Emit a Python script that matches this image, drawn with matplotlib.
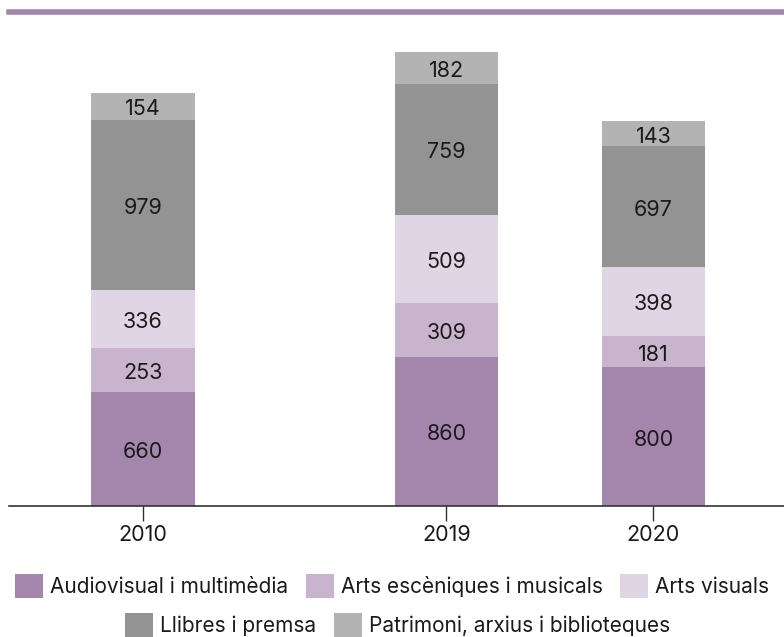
import matplotlib
matplotlib.use("Agg")
import matplotlib.pyplot as plt
import matplotlib.transforms as mtransforms
import numpy as np

plt.rcParams['font.family'] = ['Inter', 'DejaVu Sans']

# data
years = ['2010', '2019', '2020']
categories = ['Audiovisual i multimèdia', 'Arts escèniques i musicals', 'Arts visuals',
              'Llibres i premsa', 'Patrimoni, arxius i biblioteques']
audiovisual = [660, 860, 800]
arts_esceniques = [253, 309, 181]
arts_visuals = [336, 509, 398]
llibres = [979, 759, 697]
patrimoni = [154, 182, 143]

series = [audiovisual, arts_esceniques, arts_visuals, llibres, patrimoni]
colors = ['#a486ac', '#c9b4cd', '#e0d5e4', '#939393', '#b3b3b3']
xpos = np.array([0, 1.466, 2.466])

fig = plt.figure(figsize=(7.84, 6.37), dpi=100)
ax = fig.add_axes([9 / 784, 131 / 637, 775 / 784, 494 / 637])

# labels sit a few pixels lower than the exact middle
lab_tr = ax.transData + mtransforms.ScaledTranslation(0, -3 / 100, fig.dpi_scale_trans)

bottom = np.zeros(len(years))
handles = []
for vals, col, name in zip(series, colors, categories):
    bars = ax.bar(xpos, vals, width=0.5, bottom=bottom, color=col, label=name)
    handles.append(bars)
    for x, b, v in zip(xpos, bottom, vals):
        ax.text(x, b + v / 2, str(v), ha='center', va='center',
                fontsize=15.5, color='#1a1a1a', transform=lab_tr)
    bottom += np.array(vals)

ax.set_xlim(-0.647, 3.097)
ax.set_ylim(0, 2850)
ax.set_xticks(xpos)
ax.set_xticklabels(years, fontsize=15.5, color='#1a1a1a')
ax.set_yticks([])
ax.tick_params(axis='x', length=11, width=1, color='#333333', pad=3)

for s in ['left', 'right']:
    ax.spines[s].set_visible(False)
ax.spines['bottom'].set_color('#333333')
ax.spines['bottom'].set_linewidth(1.2)
ax.spines['top'].set_color('#a386ab')
ax.spines['top'].set_linewidth(4)

# legend in two centred rows
leg_kw = dict(frameon=False, fontsize=15, handlelength=1.35, handleheight=1.35,
              handletextpad=0.33, columnspacing=0.85, borderpad=0, borderaxespad=0,
              labelcolor='#1a1a1a', loc='center')
leg1 = fig.legend(handles[:3], categories[:3], ncol=3,
                  bbox_to_anchor=(0.5, 51 / 637), **leg_kw)
leg2 = fig.legend(handles[3:], categories[3:], ncol=2,
                  bbox_to_anchor=(0.507, 12 / 637), **leg_kw)

fig.savefig("out.png", dpi=100)
